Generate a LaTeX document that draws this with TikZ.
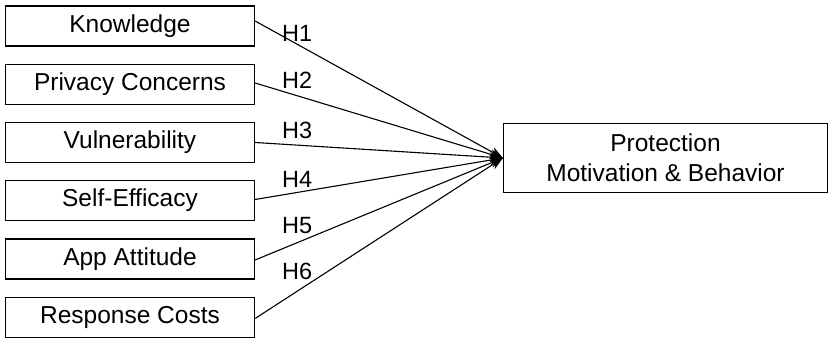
\documentclass[tikz,border=0pt]{standalone}
\usepackage{fontspec}
\setmainfont{Liberation Sans}
\usetikzlibrary{arrows.meta}
\begin{document}
\begin{tikzpicture}[x=1pt,y=-1pt,
  srcbox/.style={draw, line width=1.2pt, minimum width=249pt, minimum height=40pt, inner sep=0pt, font=\fontsize{24.5}{27}\selectfont},
  tgtbox/.style={draw, line width=1.2pt, minimum width=324pt, minimum height=69pt, inner sep=0pt, align=center, font=\fontsize{24.5}{30}\selectfont},
  hlab/.style={anchor=west, inner sep=0pt, font=\fontsize{23.5}{25}\selectfont},
  link/.style={line width=1.1pt, -{Stealth[length=13pt,width=10pt]}}]
\useasboundingbox (0,0) rectangle (835,339);
\node[srcbox] (k) at (130,26) {Knowledge};
\node[srcbox] (p) at (130,84.5) {Privacy Concerns};
\node[srcbox] (v) at (130,142.5) {Vulnerability};
\node[srcbox] (s) at (130,200.5) {Self-Efficacy};
\node[srcbox] (a) at (130,259) {App Attitude};
\node[srcbox] (r) at (130,317.5) {Response Costs};
\node[tgtbox] (t) at (665.5,158) {Protection\\Motivation \& Behavior};
\coordinate (tip) at (t.west);
\draw[link] ([yshift=5pt]k.east) -- (tip);
\draw[link] ([yshift=1.5pt]p.east) -- (tip);
\draw[link] (v.east) -- (tip);
\draw[link] ([yshift=1pt]s.east) -- (tip);
\draw[link] ([yshift=-1pt]a.east) -- (tip);
\draw[link] ([yshift=-1pt]r.east) -- (tip);
\node[hlab] (h1) at (282,33.5) {H1};
\node[hlab] (h2) at (282,80) {H2};
\node[hlab] (h3) at (282,130) {H3};
\node[hlab] (h4) at (282,179.5) {H4};
\node[hlab] (h5) at (282,226) {H5};
\node[hlab] (h6) at (282,271) {H6};
\end{tikzpicture}
\end{document}
